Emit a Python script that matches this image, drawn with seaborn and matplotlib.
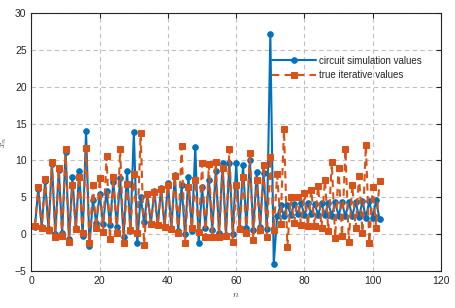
import numpy as np
import pandas as pd
import matplotlib
matplotlib.use("Agg")
import matplotlib.pyplot as plt
import seaborn as sns

# x_n values, n = 1..102
circuit_values = [
    1.0, 6.1, 1.0, 7.2, 0.7, 9.5, 0.0, 8.7, 0.2, 11.2,
    -0.7, 7.7, 0.8, 8.6, -0.3, 14.0, -1.6, 4.6, 1.5, 5.4,
    1.4, 5.9, 1.2, 7.1, 1.0, 7.6, -0.4, 8.6, 0.4, 13.9,
    -1.2, 5.1, 1.6, 5.4, 1.4, 5.9, 1.2, 6.3, 1.0, 6.9,
    0.8, 8.0, 0.4, 6.6, 0.0, 7.8, 0.4, 11.8, -1.2, 6.4,
    0.9, 7.3, 0.6, 8.5, 0.2, 9.6, -0.1, 9.6, 0.0, 9.6,
    0.8, 9.4, 0.9, 10.1, 0.5, 8.4, 1.0, 8.3, 0.7, 27.1,
    -4.0, 2.4, 3.9, 2.5, 4.0, 2.6, 4.1, 2.7, 4.2, 2.6,
    4.2, 2.7, 4.1, 2.6, 4.2, 2.6, 4.2, 2.5, 4.3, 2.5,
    4.3, 2.4, 4.4, 2.4, 4.4, 2.3, 4.5, 2.2, 4.5, 2.2,
    4.6, 2.0,
]
true_values = [
    1.1, 6.4, 0.8, 7.5, 0.5, 9.8, -0.45, 9.0, -0.3, 11.5,
    -1.0, 6.7, 0.7, 7.8, 0.2, 11.7, -1.2, 6.6, 0.8, 7.6,
    0.3, 10.6, -0.7, 7.8, 0.2, 11.5, -1.2, 6.8, 0.6, 8.1,
    0.2, 13.7, -1.5, 5.4, 1.4, 5.7, 1.2, 6.1, 1.0, 6.7,
    0.7, 7.9, 0.1, 11.9, -1.2, 6.4, 0.8, 7.3, 0.3, 9.6,
    -0.4, 9.5, -0.4, 9.8, -0.45, 9.0, -0.3, 11.6, -1.0, 6.7,
    0.7, 7.7, 0.2, 11.0, -0.8, 7.4, 0.6, 9.4, -0.4, 10.4,
    0.5, 8.1, 1.4, 14.2, -1.7, 5.0, 1.5, 5.1, 1.3, 5.6,
    1.1, 6.0, 1.1, 6.5, 0.9, 7.4, 0.4, 9.8, -0.5, 9.0,
    -0.3, 11.5, -1.0, 6.7, 0.8, 7.9, 0.2, 12.1, -1.2, 6.4,
    0.9, 7.2,
]
n = np.arange(1, len(circuit_values) + 1)

x_ticks = [0, 20, 40, 60, 80, 100, 120]
y_ticks = [-5, 0, 5, 10, 15, 20, 25, 30]

blue = "#0072BD"
orange = "#D95319"

sns.set_style("white")
plt.rcParams["font.family"] = ["Liberation Sans", "DejaVu Sans"]
plt.rcParams["mathtext.fontset"] = "cm"

df = pd.DataFrame({"n": n, "circuit": circuit_values, "true": true_values})

fig = plt.figure(figsize=(4.56, 3.08), dpi=100)
ax = fig.add_axes([0.069, 0.12, 0.898, 0.838])

sns.lineplot(data=df, x="n", y="circuit", ax=ax, color=blue, linewidth=1.5,
             marker="o", markersize=4, markeredgecolor=blue,
             label="circuit simulation values")
sns.lineplot(data=df, x="n", y="true", ax=ax, color=orange, linewidth=1.5,
             linestyle=(0, (3.5, 2.5)), marker="s", markersize=4,
             markeredgecolor=orange, label="true iterative values")

ax.set_xlim(0, 120)
ax.set_ylim(-5, 30)
ax.set_xticks(x_ticks)
ax.set_yticks(y_ticks)
ax.grid(True, linestyle=(0, (4, 3)), color="#c0c0c0", linewidth=0.8)
ax.set_axisbelow(True)

for s in ax.spines.values():
    s.set_color("#262626")
    s.set_linewidth(0.8)
ax.tick_params(direction="in", length=3.5, width=0.8, labelsize=7.5,
               top=True, right=True, colors="#262626")

ax.set_xlabel("$n$", fontsize=7, color="#404040", labelpad=2)
ax.set_ylabel("$x_n$", fontsize=7, color="#404040", labelpad=4)

ax.legend(loc="upper left", bbox_to_anchor=(0.57, 0.86), frameon=False,
          fontsize=7, handlelength=4.6, handletextpad=0.3, labelspacing=0.45,
          borderpad=0.2)

fig.savefig("out.png", dpi=100)
